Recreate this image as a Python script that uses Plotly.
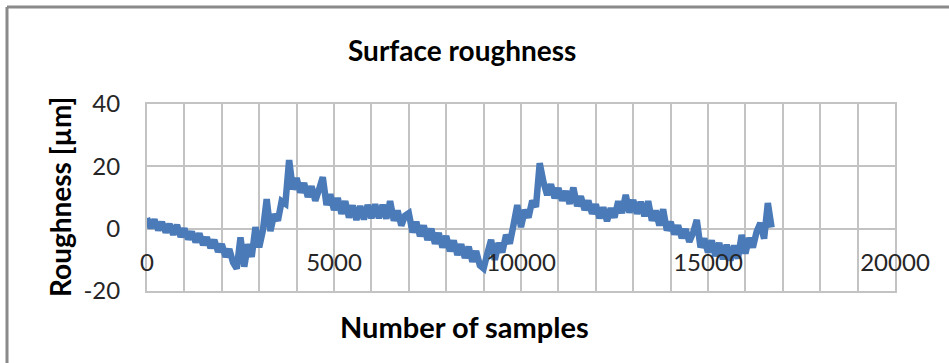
import plotly.graph_objects as go

# Surface roughness profile, one reading every 100 samples
sample_step = 100
roughness_um = [
    3.4, 0.2, 2.9, -0.5, 2.1, -1.2, 1.5, -1.9, 1.2, -2.6,
    0.0, -3.4, -1.0, -4.3, -1.6, -5.2, -2.8, -6.2, -3.6, -7.4,
    -5.0, -9.0, -6.6, -10.8, -12.8, -2.8, -12.2, -5.0, -9.0, 0.5,
    -6.0, -0.5, 9.5, -0.8, 4.6, 2.6, 8.8, 8.0, 22.0, 12.6,
    16.2, 11.6, 14.6, 10.2, 13.6, 9.0, 12.6, 16.5, 7.6, 11.0,
    6.0, 9.8, 4.8, 8.8, 3.6, 7.4, 2.8, 7.2, 3.0, 7.6,
    3.4, 7.8, 3.4, 7.6, 3.2, 8.8, 2.6, 5.8, 1.0, 4.2,
    5.0, -1.2, 2.2, -2.4, 1.0, -3.6, 0.0, -4.8, -1.4, -6.0,
    -2.4, -7.2, -3.8, -8.4, -5.0, -9.4, -5.8, -10.6, -7.2, -11.8,
    -12.8, -8.0, -3.6, -10.0, -4.6, -7.6, -2.0, -4.8, 1.2, 7.6,
    0.5, 6.0, 3.6, 9.0, 7.0, 21.0, 15.0, 10.8, 14.2, 9.8,
    13.0, 9.0, 12.0, 8.0, 13.2, 7.2, 10.4, 6.0, 9.0, 4.8,
    7.8, 3.4, 6.8, 2.4, 6.6, 3.6, 8.8, 5.0, 10.8, 5.2,
    9.2, 4.8, 8.6, 4.0, 8.8, 2.6, 5.8, 1.0, 6.2, -0.6,
    2.2, -1.8, 1.0, -3.0, -0.2, -4.2, -1.4, 2.8, -6.0, -3.2,
    -7.6, -3.8, -8.8, -4.6, -9.8, -5.2, -10.2, -5.4, -9.6, -2.0,
    -8.0, -3.0, -6.0, -1.0, 1.8, -3.2, 8.2, 0.4,
]
samples = [i * sample_step for i in range(len(roughness_um))]

x_tick_values = [0, 5000, 10000, 15000, 20000]
x_tick_labels = ["0", "5000", "10000", "15000", "20000"]
y_tick_values = [-20, 0, 20, 40]
y_tick_labels = ["-20", "0", "20", "40"]

title_text = "Surface roughness"
x_title = "Number of samples"
y_title = "Roughness [µm]"

W, H = 949, 363
L, R, T, B = 147, 54, 104, 72
PW, PH = W - L - R, H - T - B


def px_x(px):
    return (px - L) / PW


def px_y(py):
    return (H - B - py) / PH


GRID = "#c3c3c3"
FRAME = "#8a8a8a"
LINE_BLUE = "#4a7ab8"
TEXT = "#262626"
FONT = "Lato"

fig = go.Figure()
fig.add_trace(go.Scatter(
    x=samples, y=roughness_um, mode="lines",
    line=dict(color=LINE_BLUE, width=6.5, shape="linear", simplify=False),
    hoverinfo="skip", showlegend=False,
))

fig.update_layout(
    width=W, height=H,
    margin=dict(l=L, r=R, t=T, b=B, autoexpand=False),
    paper_bgcolor="white", plot_bgcolor="white",
    font=dict(family=FONT, color=TEXT),
    xaxis=dict(
        range=[0, 20000], tickvals=x_tick_values, showticklabels=False,
        showgrid=True, gridcolor=GRID, gridwidth=2,
        minor=dict(dtick=1000, showgrid=True, gridcolor=GRID, gridwidth=2),
        showline=True, mirror=True, linecolor=GRID, linewidth=2,
        zeroline=False, ticks="",
    ),
    # secondary x axis carries the labels along the zero line
    xaxis2=dict(
        overlaying="x", anchor="free", position=px_y(229),
        range=[0, 20000], tickvals=x_tick_values, ticktext=x_tick_labels,
        showgrid=False, showline=False, zeroline=False, ticks="",
        tickfont=dict(family=FONT, size=24, color=TEXT),
        ticklabelstandoff=17,
    ),
    yaxis=dict(
        range=[-20, 40], tickvals=y_tick_values, ticktext=y_tick_labels,
        showgrid=True, gridcolor=GRID, gridwidth=2,
        showline=True, mirror=True, linecolor=GRID, linewidth=2,
        zeroline=False, ticks="",
        tickfont=dict(family=FONT, size=24, color=TEXT),
        ticklabelstandoff=20,
    ),
    annotations=[
        dict(text=f"<b>{title_text}</b>", xref="paper", yref="paper",
             x=px_x(462), y=px_y(50), xanchor="center", yanchor="middle",
             showarrow=False, font=dict(family=FONT, size=28, color="black")),
        dict(text=f"<b>{x_title}</b>", xref="paper", yref="paper",
             x=px_x(464), y=px_y(326), xanchor="center", yanchor="middle",
             showarrow=False, font=dict(family=FONT, size=29, color="black")),
        dict(text=f"<b>{y_title}</b>", xref="paper", yref="paper",
             x=px_x(60), y=px_y(197), xanchor="center", yanchor="middle",
             showarrow=False, textangle=-90,
             font=dict(family=FONT, size=28, color="black")),
    ],
    shapes=[
        dict(type="line", xref="paper", yref="paper",
             x0=px_x(7), x1=px_x(7), y0=px_y(7), y1=px_y(H + 5),
             line=dict(color=FRAME, width=3)),
        dict(type="line", xref="paper", yref="paper",
             x0=px_x(7), x1=px_x(W + 5), y0=px_y(7), y1=px_y(7),
             line=dict(color=FRAME, width=3)),
    ],
)

# empty trace so the label axis is rendered
fig.add_trace(go.Scatter(x=[None], y=[None], xaxis="x2", showlegend=False,
                         hoverinfo="skip"))

fig.write_html("out.html")
